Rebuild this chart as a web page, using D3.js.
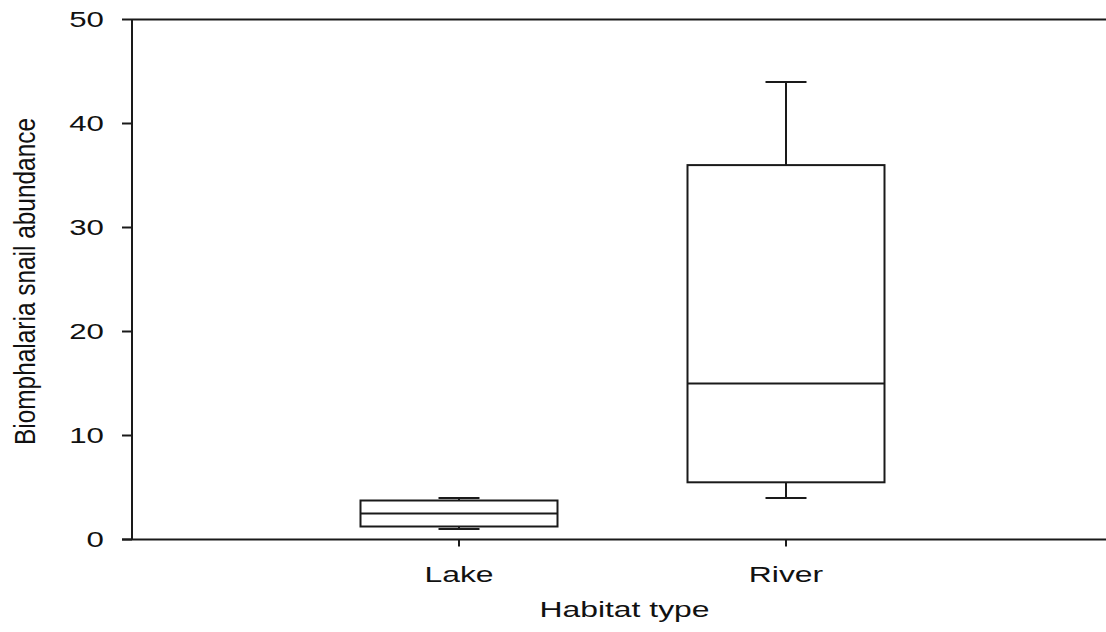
<!DOCTYPE html>
<html>
<head>
<meta charset="utf-8">
<script src="https://cdn.jsdelivr.net/npm/d3@7"></script>
<style>
  html, body { margin: 0; padding: 0; background: #fff; }
  svg { display: block; }
  text { font-family: "Liberation Sans", Arial, sans-serif; fill: #111; }
</style>
</head>
<body>
<svg id="chart" width="1106" height="632"></svg>
<script>
// Habitat categories and five-number summaries of snail counts
const habitats = ["Lake", "River"];
const whiskerLow = [1, 4];
const quartile1 = [1.25, 5.5];
const medians = [2.5, 15];
const quartile3 = [3.75, 36];
const whiskerHigh = [4, 44];
const yTicks = [0, 10, 20, 30, 40, 50];

const W = 1106;
const plotLeft = 132, plotTop = 19.5, plotBottom = 539.5;
const stretch = 1.45;   // horizontal widening of the typeface
const ink = "#1a1a1a";

const svg = d3.select("#chart");

const x = d3.scalePoint().domain(habitats).range([plotLeft, 1113]).padding(1);
const y = d3.scaleLinear().domain([0, 50]).range([plotBottom, plotTop]);

const boxW = 197, capW = 41;

// frame: top rule and bottom axis line run to the right edge
svg.append("line").attr("x1", plotLeft).attr("x2", W).attr("y1", y(50)).attr("y2", y(50))
  .attr("stroke", ink).attr("stroke-width", 2);
svg.append("line").attr("x1", plotLeft - 10).attr("x2", W).attr("y1", y(0)).attr("y2", y(0))
  .attr("stroke", ink).attr("stroke-width", 2);
svg.append("line").attr("x1", plotLeft).attr("x2", plotLeft).attr("y1", y(50)).attr("y2", y(0))
  .attr("stroke", ink).attr("stroke-width", 2);

// y ticks and labels
const yt = svg.append("g");
yt.selectAll("line").data(yTicks).join("line")
  .attr("x1", plotLeft - 10).attr("x2", plotLeft)
  .attr("y1", d => y(d)).attr("y2", d => y(d))
  .attr("stroke", ink).attr("stroke-width", 2);
yt.selectAll("text").data(yTicks).join("text")
  .attr("transform", d => `translate(104,${y(d)}) scale(1.42,1)`)
  .attr("text-anchor", "end").attr("dy", "0.36em")
  .attr("font-size", 22)
  .text(d => d);

// x ticks and labels
const xt = svg.append("g");
xt.selectAll("line").data(habitats).join("line")
  .attr("x1", d => x(d)).attr("x2", d => x(d))
  .attr("y1", y(0)).attr("y2", y(0) + 7)
  .attr("stroke", ink).attr("stroke-width", 2);
xt.selectAll("text").data(habitats).join("text")
  .attr("transform", d => `translate(${x(d)},582) scale(${stretch},1)`)
  .attr("text-anchor", "middle")
  .attr("font-size", 22)
  .text(d => d);

// axis titles
svg.append("text")
  .attr("transform", `translate(624.5,617) scale(${stretch},1)`)
  .attr("text-anchor", "middle").attr("font-size", 22)
  .text("Habitat type");

svg.append("text")
  .attr("transform", "translate(35,281.5) rotate(-90) scale(1,1.45)")
  .attr("text-anchor", "middle").attr("font-size", 20)
  .attr("textLength", 327).attr("lengthAdjust", "spacingAndGlyphs")
  .text("Biomphalaria snail abundance");

// box plots
const rows = habitats.map((h, i) => ({
  h, lo: whiskerLow[i], q1: quartile1[i], med: medians[i], q3: quartile3[i], hi: whiskerHigh[i]
}));

const g = svg.append("g").attr("stroke", ink).attr("stroke-width", 2).attr("fill", "none");
const b = g.selectAll("g").data(rows).join("g");

// whiskers
b.append("line").attr("x1", d => x(d.h)).attr("x2", d => x(d.h))
  .attr("y1", d => y(d.q3)).attr("y2", d => y(d.hi));
b.append("line").attr("x1", d => x(d.h)).attr("x2", d => x(d.h))
  .attr("y1", d => y(d.q1)).attr("y2", d => y(d.lo));
b.append("line").attr("x1", d => x(d.h) - capW / 2).attr("x2", d => x(d.h) + capW / 2)
  .attr("y1", d => y(d.hi)).attr("y2", d => y(d.hi));
b.append("line").attr("x1", d => x(d.h) - capW / 2).attr("x2", d => x(d.h) + capW / 2)
  .attr("y1", d => y(d.lo)).attr("y2", d => y(d.lo));

// box and median
b.append("rect")
  .attr("x", d => x(d.h) - boxW / 2).attr("width", boxW)
  .attr("y", d => y(d.q3)).attr("height", d => y(d.q1) - y(d.q3))
  .attr("fill", "#fff");
b.append("line").attr("x1", d => x(d.h) - boxW / 2).attr("x2", d => x(d.h) + boxW / 2)
  .attr("y1", d => y(d.med)).attr("y2", d => y(d.med));
</script>
</body>
</html>
